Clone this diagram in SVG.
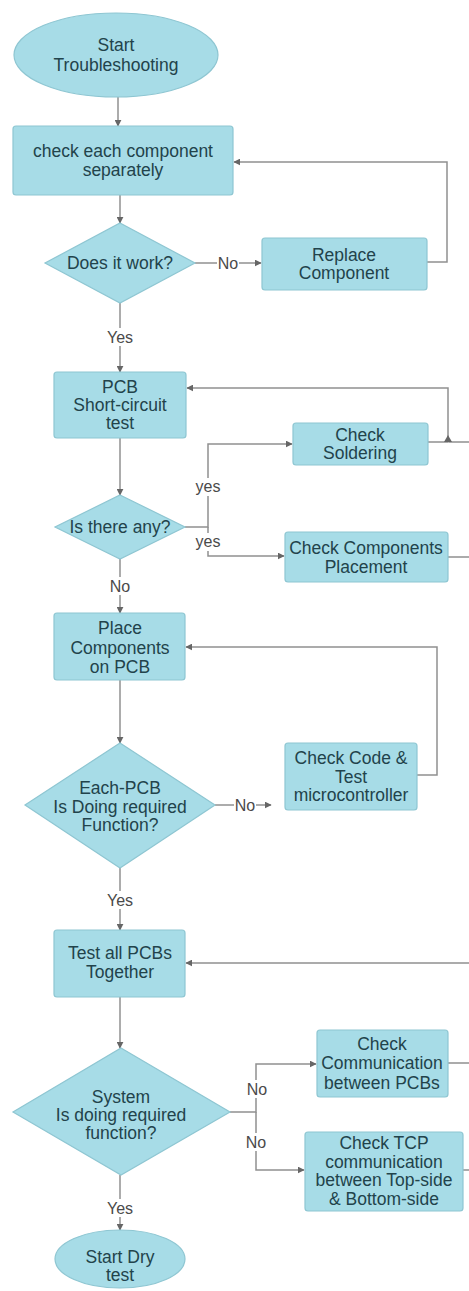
<svg xmlns="http://www.w3.org/2000/svg" width="469" height="1291" viewBox="0 0 469 1291">
<style>
.n{fill:#a7dce7;stroke:#8ec6d2;stroke-width:1.2}
.t{font-family:"Liberation Sans",Arial,sans-serif;font-size:17.5px;fill:#22434b;text-anchor:middle;dominant-baseline:central}
.l{font-family:"Liberation Sans",Arial,sans-serif;font-size:16px;fill:#4a4a4a;text-anchor:middle;dominant-baseline:central}
.c{fill:none;stroke:#909090;stroke-width:1.5}
.lb{fill:#ffffff}
</style>
<defs>
<marker id="a" viewBox="0 0 10 10" refX="9" refY="5" markerWidth="7" markerHeight="7" markerUnits="userSpaceOnUse" orient="auto">
<path d="M0,0 L10,5 L0,10 z" fill="#666666"/>
</marker>
</defs>
<rect width="469" height="1291" fill="#ffffff"/>
<g id="connectors">
<path class="c" d="M118,97 V126" marker-end="url(#a)"/>
<path class="c" d="M120,195 V223" marker-end="url(#a)"/>
<path class="c" d="M195,263 H261" marker-end="url(#a)"/>
<path class="c" d="M427,262 H447 V162 H234" marker-end="url(#a)"/>
<path class="c" d="M120,303 V372" marker-end="url(#a)"/>
<path class="c" d="M120,438 V495" marker-end="url(#a)"/>
<path class="c" d="M185,527 H208 V444 H292" marker-end="url(#a)"/>
<path class="c" d="M208,527 V556 H284" marker-end="url(#a)"/>
<path class="c" d="M428,442 H448 V388 H187" marker-end="url(#a)"/>
<path class="c" d="M448,557 H474 V442 H449"/>
<path d="M444,442 L448,435 L452,442 z" fill="#666666"/>
<path class="c" d="M120,558 V613" marker-end="url(#a)"/>
<path class="c" d="M120,680 V743" marker-end="url(#a)"/>
<path class="c" d="M215,805 H271" marker-end="url(#a)"/>
<path class="c" d="M417,775 H437 V647 H186" marker-end="url(#a)"/>
<path class="c" d="M120,868 V930" marker-end="url(#a)"/>
<path class="c" d="M120,997 V1048" marker-end="url(#a)"/>
<path class="c" d="M448,1063 H482 V963 H186" marker-end="url(#a)"/>
<path class="c" d="M463,1170 H482 V1063"/>
<path class="c" d="M230,1112 H256 V1064 H316" marker-end="url(#a)"/>
<path class="c" d="M256,1112 V1170 H304" marker-end="url(#a)"/>
<path class="c" d="M120,1175 V1230" marker-end="url(#a)"/>
<rect class="lb" x="217" y="254" width="22" height="18"/>
<text class="l" x="228" y="263">No</text>
<rect class="lb" x="105" y="328" width="30" height="18"/>
<text class="l" x="120" y="337">Yes</text>
<rect class="lb" x="194" y="478" width="28" height="18"/>
<text class="l" x="208" y="486">yes</text>
<rect class="lb" x="194" y="533" width="28" height="18"/>
<text class="l" x="208" y="541">yes</text>
<rect class="lb" x="109" y="577" width="22" height="18"/>
<text class="l" x="120" y="586">No</text>
<rect class="lb" x="234" y="796" width="22" height="18"/>
<text class="l" x="245" y="805">No</text>
<rect class="lb" x="105" y="891" width="30" height="18"/>
<text class="l" x="120" y="900">Yes</text>
<rect class="lb" x="246" y="1080" width="22" height="18"/>
<text class="l" x="257" y="1089">No</text>
<rect class="lb" x="245" y="1133" width="22" height="18"/>
<text class="l" x="256" y="1142">No</text>
<rect class="lb" x="105" y="1199" width="30" height="18"/>
<text class="l" x="120" y="1208">Yes</text>
</g>
<g id="start">
<ellipse class="n" cx="116" cy="55" rx="102" ry="42"/>
<text class="t" x="116" y="45">Start</text>
<text class="t" x="116" y="65">Troubleshooting</text>
</g>
<g id="check-each">
<rect class="n" x="13" y="126" width="220" height="69" rx="3"/>
<text class="t" x="123" y="151">check each component</text>
<text class="t" x="123" y="170">separately</text>
</g>
<g id="does-it-work">
<polygon class="n" points="120,223 195,263 120,303 45,263"/>
<text class="t" x="120" y="263">Does it work?</text>
</g>
<g id="replace">
<rect class="n" x="262" y="238" width="165" height="52" rx="3"/>
<text class="t" x="344" y="255">Replace</text>
<text class="t" x="344" y="273">Component</text>
</g>
<g id="pcb-short">
<rect class="n" x="54" y="372" width="132" height="66" rx="3"/>
<text class="t" x="120" y="387">PCB</text>
<text class="t" x="120" y="405">Short-circuit</text>
<text class="t" x="120" y="423">test</text>
</g>
<g id="check-soldering">
<rect class="n" x="293" y="423" width="135" height="42" rx="3"/>
<text class="t" x="360" y="435">Check</text>
<text class="t" x="360" y="453">Soldering</text>
</g>
<g id="is-there-any">
<polygon class="n" points="120,495 185,527 120,559 55,527"/>
<text class="t" x="120" y="527">Is there any?</text>
</g>
<g id="check-placement">
<rect class="n" x="285" y="532" width="163" height="50" rx="3"/>
<text class="t" x="366" y="548">Check Components</text>
<text class="t" x="366" y="567">Placement</text>
</g>
<g id="place-components">
<rect class="n" x="54" y="613" width="131" height="67" rx="3"/>
<text class="t" x="120" y="628">Place</text>
<text class="t" x="120" y="648">Components</text>
<text class="t" x="120" y="667">on PCB</text>
</g>
<g id="each-pcb">
<polygon class="n" points="120,743 215,805 120,868 25,805"/>
<text class="t" x="120" y="788">Each-PCB</text>
<text class="t" x="120" y="807">Is Doing required</text>
<text class="t" x="120" y="825">Function?</text>
</g>
<g id="check-code">
<rect class="n" x="285" y="743" width="132" height="67" rx="3"/>
<text class="t" x="351" y="758">Check Code &amp;</text>
<text class="t" x="351" y="777">Test</text>
<text class="t" x="351" y="795">microcontroller</text>
</g>
<g id="test-all">
<rect class="n" x="54" y="930" width="131" height="67" rx="3"/>
<text class="t" x="120" y="953">Test all PCBs</text>
<text class="t" x="120" y="972">Together</text>
</g>
<g id="system">
<polygon class="n" points="121,1048 230,1112 121,1175 13,1112"/>
<text class="t" x="121" y="1097">System</text>
<text class="t" x="121" y="1115">Is doing required</text>
<text class="t" x="121" y="1133">function?</text>
</g>
<g id="check-communication">
<rect class="n" x="317" y="1030" width="131" height="67" rx="3"/>
<text class="t" x="382" y="1044">Check</text>
<text class="t" x="382" y="1063">Communication</text>
<text class="t" x="382" y="1083">between PCBs</text>
</g>
<g id="check-tcp">
<rect class="n" x="305" y="1132" width="158" height="79" rx="3"/>
<text class="t" x="384" y="1143">Check TCP</text>
<text class="t" x="384" y="1162">communication</text>
<text class="t" x="384" y="1180">between Top-side</text>
<text class="t" x="384" y="1199">&amp; Bottom-side</text>
</g>
<g id="start-dry">
<ellipse class="n" cx="120" cy="1259" rx="65" ry="29"/>
<text class="t" x="120" y="1257">Start Dry</text>
<text class="t" x="120" y="1275">test</text>
</g>
</svg>
